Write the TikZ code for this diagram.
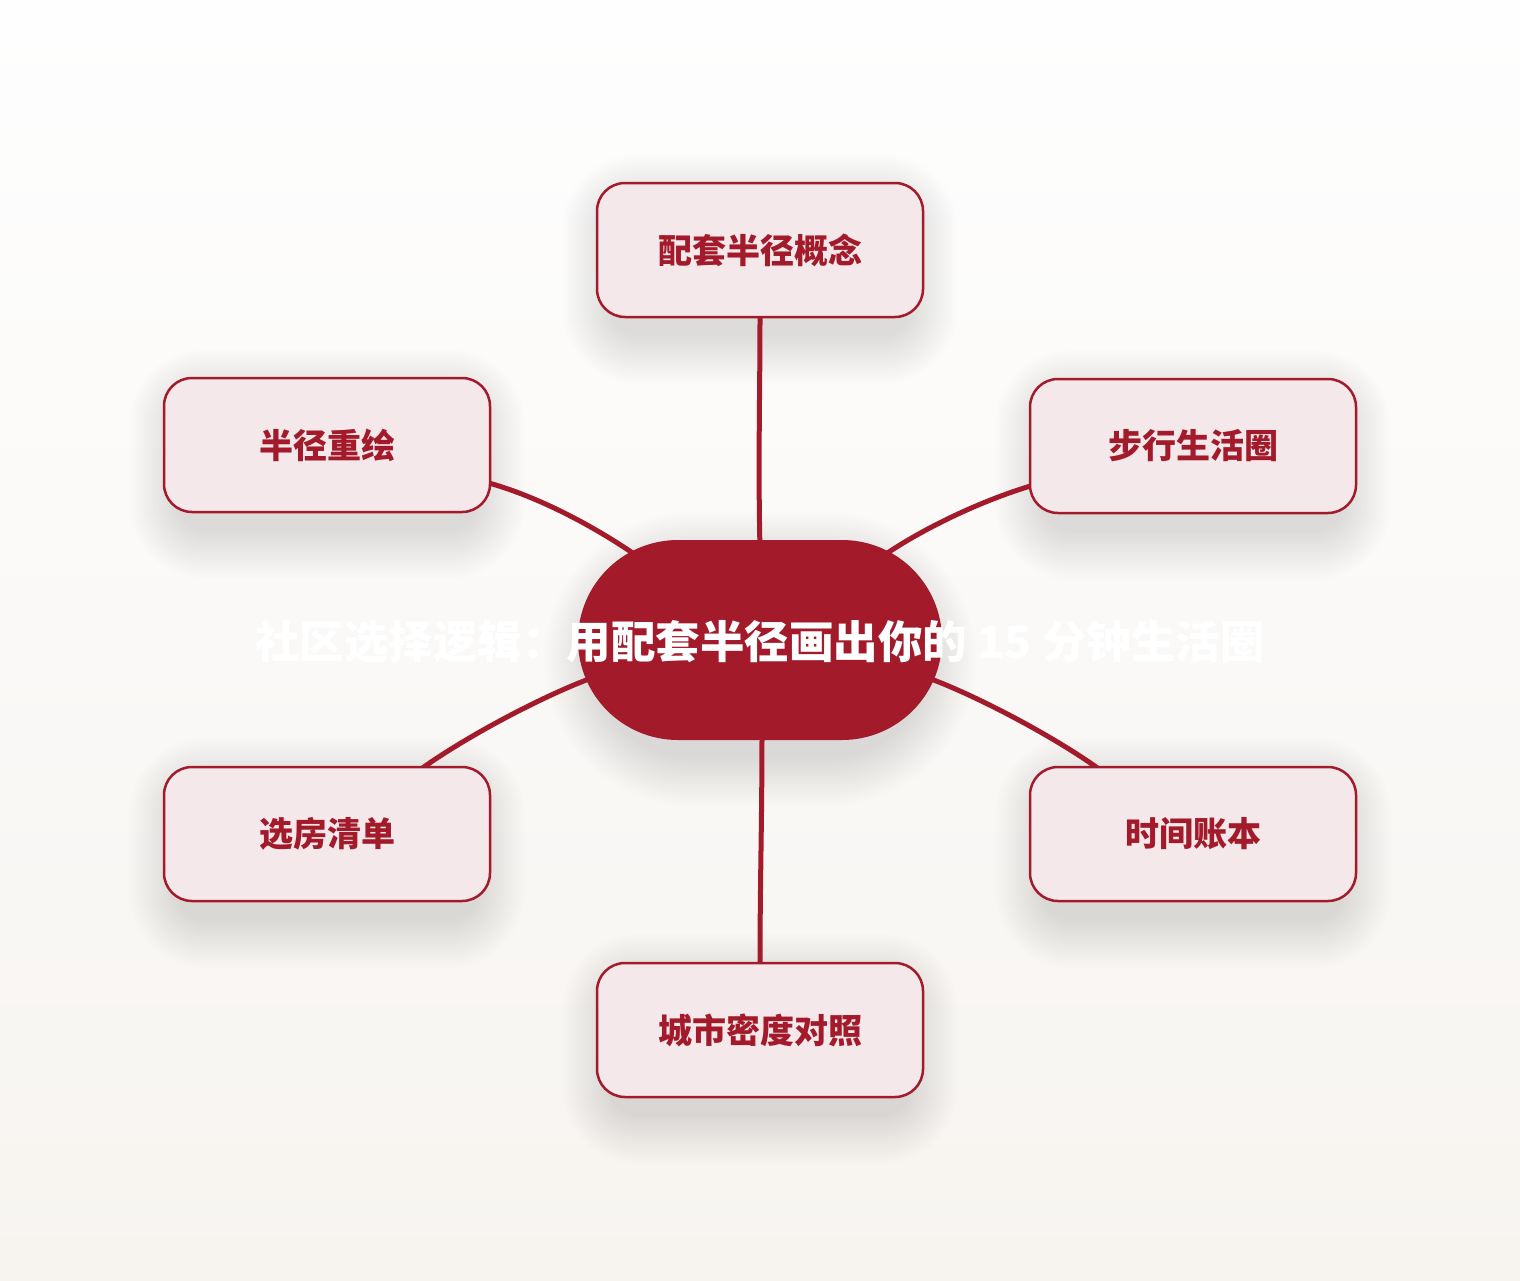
\documentclass[tikz,border=0pt]{standalone}
\usepackage{fontspec}
\newfontfamily\cjk{Noto Sans CJK SC}
\usetikzlibrary{calc}
\definecolor{cred}{HTML}{A31A2B}
\definecolor{cfill}{HTML}{F4E8EB}
\definecolor{bgtop}{HTML}{FEFEFE}
\definecolor{bgbot}{HTML}{F7F4F0}
\pgfdeclarelayer{bg}
\pgfdeclarelayer{shadow}
\pgfdeclarelayer{edges}
\pgfsetlayers{bg,shadow,edges,main}
\tikzset{
  leaf/.style={draw=cred, line width=2.5pt, fill=cfill, rounded corners=28pt,
    minimum width=326pt, minimum height=134pt, inner sep=0pt,
    text=cred, font=\cjk\bfseries\fontsize{34}{40}\selectfont},
  hub/.style={fill=cred, rounded corners=100pt, minimum width=364pt,
    minimum height=200pt, inner sep=0pt},
  hubtext/.style={text=white, inner sep=0pt, font=\cjk\bfseries\fontsize{44.5}{52}\selectfont},
  link/.style={draw=cred, line width=5pt, line cap=round},
}
\begin{document}
\begin{tikzpicture}[x=1pt,y=-1pt]
\useasboundingbox (0,0) rectangle (1520,1280);
\begin{pgfonlayer}{bg}
\shade[top color=bgtop, bottom color=bgbot] (0,0) rectangle (1520,1280);
\end{pgfonlayer}

\node[hub] (c) at (760,640) {};
\node[leaf] (t) at (760,250) {配套半径概念};
\node[leaf] (ul) at (327,445) {半径重绘};
\node[leaf] (ur) at (1193,446) {步行生活圈};
\node[leaf] (ll) at (327,834) {选房清单};
\node[leaf] (lr) at (1193,834) {时间账本};
\node[leaf] (b) at (760,1030) {城市密度对照};
\node[hubtext] (ct) at (760,642) {社区选择逻辑：用配套半径画出你的 15 分钟生活圈};

\begin{pgfonlayer}{shadow}
\foreach \n in {t,ul,ur,ll,lr,b}{
  \foreach \i in {0,...,30}{
    \fill[black, opacity=0.0048, rounded corners={28pt+\i*1.6pt}]
      ($(\n.north west)+(-\i*1.6+14,-\i*1.6+20)$) rectangle ($(\n.south east)+(\i*1.6-14,\i*1.6+18)$);
  }
}
\foreach \i in {0,...,30}{
  \fill[black, opacity=0.0055, rounded corners={100pt+\i*1.6pt}]
    ($(c.north west)+(-\i*1.6+14,-\i*1.6+20)$) rectangle ($(c.south east)+(\i*1.6-14,\i*1.6+18)$);
}
\end{pgfonlayer}

\begin{pgfonlayer}{edges}
\draw[link] ($(t.south)+(0,-4)$) .. controls ($(t.south)+(0,80)$) and ($(c.north)+(-2,-80)$) .. ($(c.north)+(0,10)$);
\draw[link] ($(b.north)+(0,4)$) .. controls ($(b.north)+(0,-80)$) and ($(c.south)+(2,80)$) .. ($(c.south)+(2,-10)$);
\draw[link] ($(ul.east)+(-6,37)$) .. controls ($(ul.east)+(50,52)$) and ($(c.center)+(-160,-110)$) .. ($(c.center)+(-120,-82)$);
\draw[link] ($(ur.east)+(-320,38)$) .. controls ($(ur.east)+(-376,54)$) and ($(c.center)+(160,-110)$) .. ($(c.center)+(120,-82)$);
\draw[link] ($(ll.north)+(93,4)$) .. controls ($(ll.north)+(140,-30)$) and ($(c.center)+(-210,52)$) .. ($(c.center)+(-160,35)$);
\draw[link] ($(lr.north)+(-93,4)$) .. controls ($(lr.north)+(-140,-30)$) and ($(c.center)+(210,52)$) .. ($(c.center)+(160,35)$);
\end{pgfonlayer}
\end{tikzpicture}
\end{document}
